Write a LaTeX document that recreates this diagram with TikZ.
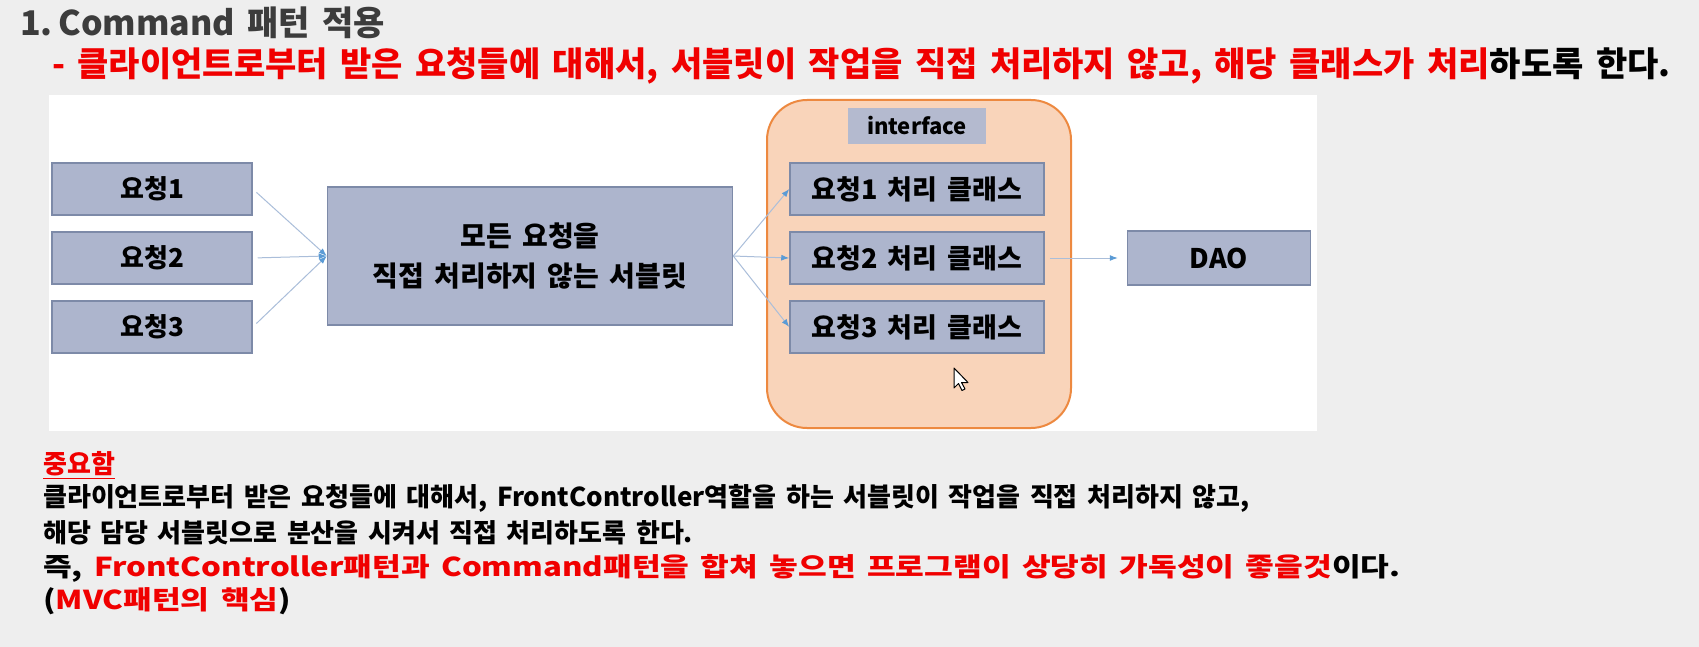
\documentclass[tikz,border=0pt]{standalone}
\usepackage{fontspec}
\usepackage{graphicx}
\setmainfont{Noto Sans CJK KR}[WordSpace=1.6]
\usetikzlibrary{arrows.meta, positioning}
\definecolor{pagegray}{RGB}{238,238,238}
\definecolor{boxfill}{RGB}{173,181,205}
\definecolor{boxline}{RGB}{125,138,168}
\definecolor{ifacefill}{RGB}{180,186,207}
\definecolor{peach}{RGB}{249,212,186}
\definecolor{peachline}{RGB}{237,137,64}
\definecolor{flowline}{RGB}{170,190,218}
\definecolor{tipblue}{RGB}{91,155,213}
\definecolor{alertred}{RGB}{240,0,0}
\definecolor{titlegray}{RGB}{60,60,60}

\begin{document}
\begin{tikzpicture}[x=1pt, y=-1pt,
  reqbox/.style={draw=boxline, line width=1.5pt, fill=boxfill, inner sep=0pt,
    font=\bfseries\fontsize{26}{30}\selectfont},
  flowarrow/.style={draw=flowline, line width=1pt,
    -{Latex[length=8pt, width=6pt, color=tipblue]}},
  textline/.style={anchor=west, inner sep=0pt, font=\bfseries\fontsize{26}{30}\selectfont}]
  % page and slide panel
  \fill[pagegray] (0,0) rectangle (1699,647);
  \fill[white] (49,95) rectangle (1317,431);
  % heading
  \node[anchor=west, inner sep=0pt, text=titlegray, font=\bfseries\fontsize{34}{40}\selectfont]
    (title) at (20,23) {1.\,Command 패턴 적용};
  \node[textline, font=\bfseries\fontsize{34}{40}\selectfont] (subtitle) at (52,66)
    {\color{alertred}- 클라이언트로부터 받은 요청들에 대해서, 서블릿이 작업을 직접 처리하지 않고, 해당 클래스가 처리\color{black}하도록 한다.};
  % requests
  \node[reqbox, minimum width=200pt, minimum height=52pt] (req1) at (152,189) {요청1};
  \node[reqbox, minimum width=200pt, minimum height=52pt] (req2) at (152,258) {요청2};
  \node[reqbox, minimum width=200pt, minimum height=52pt] (req3) at (152,327) {요청3};
  \node[reqbox, minimum width=405pt, minimum height=138pt, align=center,
    font=\bfseries\fontsize{28}{40}\selectfont] (servlet) at (530,256)
    {모든 요청을\\직접 처리하지 않는 서블릿};
  % command classes
  \draw[peachline, line width=2pt, fill=peach, rounded corners=40pt] (767,100) rectangle (1071,428);
  \node[fill=ifacefill, minimum width=138pt, minimum height=36pt, inner sep=0pt,
    font=\bfseries\fontsize{22}{26}\selectfont] (iface) at (917,126) {interface};
  \node[reqbox, minimum width=254pt, minimum height=52pt, font=\bfseries\fontsize{27}{30}\selectfont]
    (cmd1) at (917,189) {요청1 처리 클래스};
  \node[reqbox, minimum width=254pt, minimum height=52pt, font=\bfseries\fontsize{27}{30}\selectfont]
    (cmd2) at (917,258) {요청2 처리 클래스};
  \node[reqbox, minimum width=254pt, minimum height=52pt, font=\bfseries\fontsize{27}{30}\selectfont]
    (cmd3) at (917,327) {요청3 처리 클래스};
  \node[reqbox, minimum width=183pt, minimum height=54pt, font=\bfseries\fontsize{27}{30}\selectfont]
    (dao) at (1219,258) {DAO};
  % connectors
  \foreach \r in {req1, req2, req3}
    \draw[flowarrow, shorten <=5pt] (\r.east) -- (servlet.west);
  \foreach \c in {cmd1, cmd2, cmd3}
    \draw[flowarrow] (servlet.east) -- (\c.west);
  \draw[flowarrow, shorten <=5pt, shorten >=9pt] (cmd2.east) -- (dao.west);
  % mouse pointer
  \draw[fill=white, line width=1pt, line join=round] (954,368) -- ++(0,20) -- ++(4.5,-4.5)
    -- ++(3.5,7) -- ++(3,-1.5) -- ++(-3.5,-6.5) -- ++(6.5,0) -- cycle;
  % notes
  \node[textline, text=alertred] (important) at (43,464) {중요함};
  \draw[alertred, line width=1.5pt] ([yshift=-2pt]important.south west) -- ([yshift=-2pt]important.south east);
  \node[textline] (note1) at (43,498)
    {클라이언트로부터 받은 요청들에 대해서, FrontController역할을 하는 서블릿이 작업을 직접 처리하지 않고,};
  \node[textline] (note2) at (43,533) {해당 담당 서블릿으로 분산을 시켜서 직접 처리하도록 한다.};
  \node[textline] (note3) at (43,568)
    {\scalebox{1.2}[1]{즉, \color{alertred}FrontController패턴과 Command패턴을 합쳐 놓으면 프로그램이 상당히 가독성이 좋을것\color{black}이다.}};
  \node[textline] (note4) at (43,601) {\scalebox{1.2}[1]{(\color{alertred}MVC패턴의 핵심\color{black})}};
\end{tikzpicture}
\end{document}
